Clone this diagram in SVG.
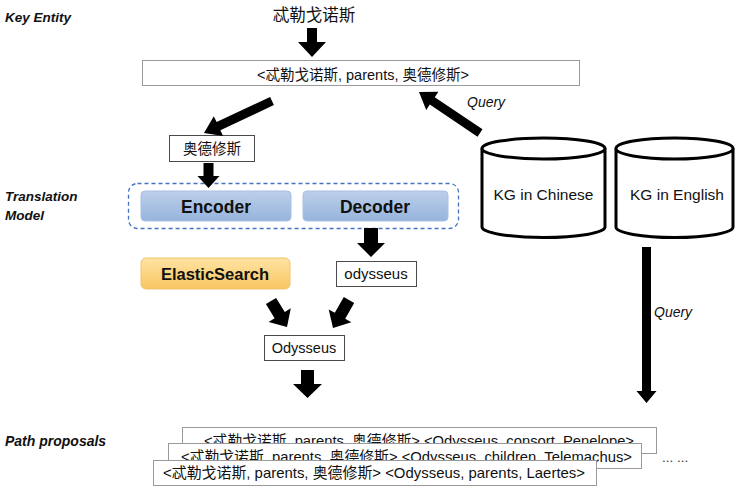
<svg xmlns="http://www.w3.org/2000/svg" width="735" height="486" viewBox="0 0 735 486">
  <defs>
    <linearGradient id="gradBlue" x1="0" y1="0" x2="0" y2="1">
      <stop offset="0" stop-color="#BCD0EA"/>
      <stop offset="1" stop-color="#97B4DC"/>
    </linearGradient>
    <linearGradient id="gradGold" x1="0" y1="0" x2="0" y2="1">
      <stop offset="0" stop-color="#FFE3A3"/>
      <stop offset="1" stop-color="#F8C661"/>
    </linearGradient>
  </defs>
  <style>
    text { font-family: "Liberation Sans", "Noto Sans CJK SC", sans-serif; fill: #111; }
    .side { font-size: 13.5px; font-weight: bold; font-style: italic; }
    .query { font-size: 14px; font-style: italic; }
    .plain { fill: #fff; stroke: #9a9a9a; stroke-width: 1; }
    .dark { fill: #fff; stroke: #4a4a4a; stroke-width: 1; }
    .module { stroke: #A9C0E2; stroke-width: 1; fill: url(#gradBlue); }
    .modlabel { font-size: 17.5px; font-weight: bold; text-anchor: middle; }
    .cyl { fill: #fff; stroke: #000; stroke-width: 3; }
    .arrow { fill: #000; }
    .mid { text-anchor: middle; }
    .row { font-size: 14.5px; }
  </style>

  <!-- stage labels on the left -->
  <text class="side" x="5" y="22">Key Entity</text>
  <text class="side" x="5" y="201">Translation</text>
  <text class="side" x="5" y="220">Model</text>
  <text class="side" x="5" y="446" style="font-size:14px">Path proposals</text>

  <!-- key entity -->
  <g id="key-entity">
    <text class="mid" x="314" y="21" style="font-size:16.5px">忒勒戈诺斯</text>
  </g>

  <!-- seed triple -->
  <g id="seed-triple">
    <rect class="plain" x="142.5" y="60.5" width="437" height="25"/>
    <text class="mid" x="363" y="80" style="font-size:14.5px">&lt;忒勒戈诺斯, parents, 奥德修斯&gt;</text>
  </g>

  <!-- tail entity -->
  <g id="tail-entity">
    <rect class="dark" x="169.5" y="135.5" width="85" height="26"/>
    <text class="mid" x="212" y="154" style="font-size:14.5px">奥德修斯</text>
  </g>

  <!-- translation model -->
  <g id="translation-model">
    <rect x="128.5" y="183.5" width="330" height="45" rx="9" fill="none" stroke="#4472C4" stroke-width="1.3" stroke-dasharray="4 3"/>
  </g>
  <g id="encoder">
    <rect class="module" x="141" y="191" width="150" height="30" rx="4"/>
    <text class="modlabel" x="216" y="213">Encoder</text>
  </g>
  <g id="decoder">
    <rect class="module" x="303" y="191" width="145" height="30" rx="4"/>
    <text class="modlabel" x="375" y="213">Decoder</text>
  </g>

  <!-- retrieval -->
  <g id="elasticsearch">
    <rect x="141" y="258" width="149" height="31" rx="5" fill="url(#gradGold)" stroke="#F1C46A" stroke-width="1"/>
    <text class="modlabel" x="215" y="280" style="font-size:16.5px">ElasticSearch</text>
  </g>

  <g id="translation-output">
    <rect class="dark" x="336.5" y="261.5" width="80" height="25"/>
    <text class="mid" x="376" y="279" style="font-size:15px">odysseus</text>
  </g>

  <g id="aligned-entity">
    <rect class="dark" x="264.5" y="335.5" width="80" height="25"/>
    <text class="mid" x="304" y="353" style="font-size:14.5px">Odysseus</text>
  </g>

  <!-- knowledge graphs -->
  <g id="kg-chinese">
    <path class="cyl" d="M482,148.5 L482,227 A61.5,10.5 0 0 0 605,227 L605,148.5"/>
    <ellipse class="cyl" cx="543.5" cy="148.5" rx="61.5" ry="10.5"/>
    <text class="mid" x="543.5" y="200" style="font-size:15.5px">KG in Chinese</text>
  </g>
  <g id="kg-english">
    <path class="cyl" d="M616,148.5 L616,227 A58.5,10.5 0 0 0 733,227 L733,148.5"/>
    <ellipse class="cyl" cx="674.5" cy="148.5" rx="58.5" ry="10.5"/>
    <text class="mid" x="677" y="200" style="font-size:15.5px">KG in English</text>
  </g>

  <!-- path proposals, stacked so each card hides the lower part of the one behind -->
  <g id="proposal-1">
    <rect class="plain" x="182.5" y="427.5" width="474" height="26"/>
    <text class="row" x="204" y="446" textLength="430" lengthAdjust="spacingAndGlyphs">&lt;忒勒戈诺斯, parents, 奥德修斯&gt; &lt;Odysseus, consort, Penelope&gt;</text>
  </g>
  <g id="proposal-2">
    <rect class="plain" x="168.5" y="443.5" width="473" height="25"/>
    <text class="row" x="181" y="462" textLength="451" lengthAdjust="spacingAndGlyphs">&lt;忒勒戈诺斯, parents, 奥德修斯&gt; &lt;Odysseus, children, Telemachus&gt;</text>
  </g>
  <g id="proposal-3">
    <rect class="plain" x="153.5" y="460.5" width="443" height="25"/>
    <text class="row" x="163" y="478" textLength="422" lengthAdjust="spacingAndGlyphs">&lt;忒勒戈诺斯, parents, 奥德修斯&gt; &lt;Odysseus, parents, Laertes&gt;</text>
  </g>
  <g id="more-proposals">
    <text x="662" y="462" style="font-size:13.5px;fill:#333">... ...</text>
  </g>

  <!-- connectors: block arrows -->
  <g id="connectors">
    <polygon class="arrow" points="307,28 317,28 317,42 326,42 312,57 298,42 307,42"/>
    <polygon class="arrow" points="270.1,96.9 273.9,105.1 220.4,130.3 223.1,136.1 204,133 213.8,116.2 216.6,122.1"/>
    <polygon class="arrow" points="482.5,129.3 434.8,97.2 438.4,91.8 419,92 426.2,110 429.8,104.6 477.5,136.7"/>
    <polygon class="arrow" points="203.5,163 213.5,163 213.5,176 219.5,176 208.5,188 197.5,176 203.5,176"/>
    <polygon class="arrow" points="364,228 378,228 378,243 385,243 371,257 357,243 364,243"/>
    <polygon class="arrow" points="276.1,297.9 284.8,312 290.8,308.3 287,327 268.6,321.9 274.6,318.2 265.9,304.1"/>
    <polygon class="arrow" points="343.8,297 354.2,303 345.2,318.8 351.3,322.3 333,328 328.7,309.4 334.8,312.8"/>
    <polygon class="arrow" points="301,370 314,370 314,384 322,384 307.5,398 293,384 301,384"/>
    <polygon class="arrow" points="642,247 651,247 651,391 656.5,391 646.5,403 636.5,391 642,391"/>
    <text class="query" x="467" y="107">Query</text>
    <text class="query" x="654" y="317">Query</text>
  </g>
</svg>
